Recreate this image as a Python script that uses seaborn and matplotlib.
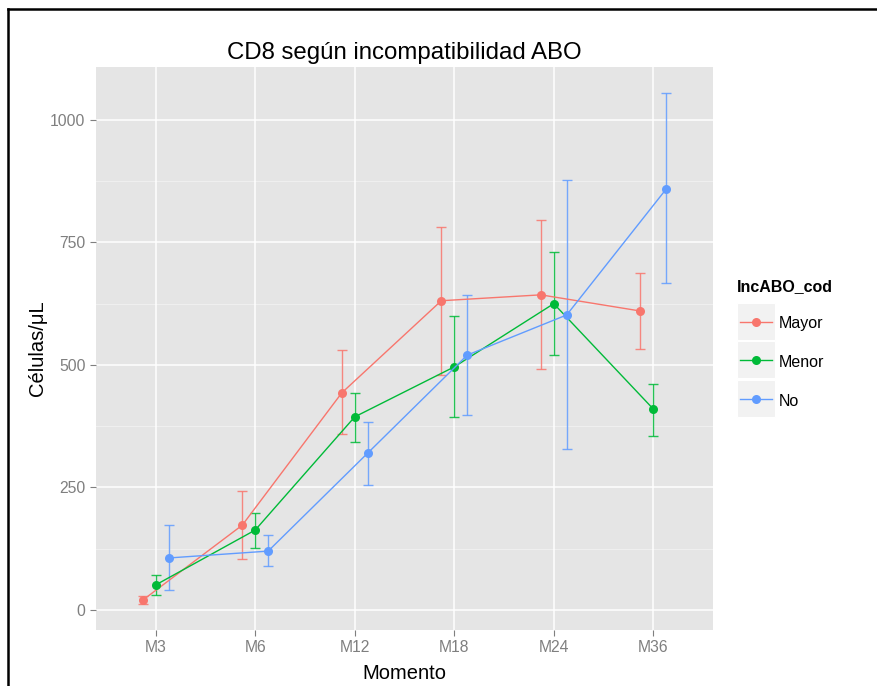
import numpy as np
import pandas as pd
import matplotlib
matplotlib.use("Agg")
import matplotlib.pyplot as plt
from matplotlib.lines import Line2D
from matplotlib.patches import Rectangle
import seaborn as sns

# ---- data ----
momentos = ["M3", "M6", "M12", "M18", "M24", "M36"]
grupos = ["Mayor", "Menor", "No"]

mayor_mean = [20, 173, 443, 631, 643, 610]
mayor_low = [12, 104, 359, 480, 492, 533]
mayor_high = [28, 243, 531, 782, 796, 688]

menor_mean = [51, 163, 394, 496, 625, 410]
menor_low = [31, 127, 343, 394, 520, 355]
menor_high = [71, 198, 443, 600, 731, 461]

no_mean = [106, 120, 320, 520, 602, 859]
no_low = [41, 90, 255, 398, 329, 667]
no_high = [173, 153, 384, 643, 878, 1055]

y_ticks = [0, 250, 500, 750, 1000]

colors = {"Mayor": "#F8766D", "Menor": "#00BA38", "No": "#619CFF"}

rows = []
for g, m, lo, hi in [("Mayor", mayor_mean, mayor_low, mayor_high),
                     ("Menor", menor_mean, menor_low, menor_high),
                     ("No", no_mean, no_low, no_high)]:
    for i, mom in enumerate(momentos):
        rows.append(dict(IncABO_cod=g, Momento=mom, idx=i, mean=m[i], low=lo[i], high=hi[i]))
df = pd.DataFrame(rows)
dodge = {"Mayor": -0.13, "Menor": 0.0, "No": 0.13}
df["xpos"] = df["idx"] + df["IncABO_cod"].map(dodge)

# ---- figure ----
W, H = 877, 686
fig = plt.figure(figsize=(W / 100, H / 100), dpi=100)
fig.patch.set_facecolor("white")
plt.rcParams["font.family"] = ["Liberation Sans", "DejaVu Sans"]

L, R, T, B = 96, 713, 67, 630
ax = fig.add_axes([L / W, 1 - B / H, (R - L) / W, (B - T) / H])
ax.set_facecolor("#E5E5E5")

# grid
for v in [125, 375, 625, 875]:
    ax.axhline(v, color="#F2F2F2", lw=0.6, zorder=0.5)
for v in y_ticks:
    ax.axhline(v, color="white", lw=1.1, zorder=0.6)
for i in range(len(momentos)):
    ax.axvline(i, color="white", lw=1.1, zorder=0.6)

# error bars
for g in grupos:
    d = df[df["IncABO_cod"] == g]
    ax.errorbar(d["xpos"], d["mean"],
                yerr=[d["mean"] - d["low"], d["high"] - d["mean"]],
                fmt="none", ecolor=colors[g], elinewidth=1.0, capsize=3.3,
                capthick=1.0, alpha=0.85, zorder=2)

sns.lineplot(data=df, x="xpos", y="mean", hue="IncABO_cod", palette=colors,
             hue_order=grupos, marker="o", markersize=6.5, markeredgewidth=0,
             linewidth=1.0, sort=False, legend=False, ax=ax, zorder=3)

ax.set_xlim(-0.6, 5.6)
ax.set_ylim(-41, 1108)
ax.set_xticks(range(len(momentos)))
ax.set_xticklabels(momentos)
ax.set_yticks(y_ticks)
ax.set_yticklabels([str(v) for v in y_ticks])
for s in ax.spines.values():
    s.set_visible(False)
ax.tick_params(axis="both", colors="#7F7F7F", labelcolor="#7F7F7F",
               labelsize=11.3, length=4.5, width=0.8, pad=3)
ax.set_xlabel("Momento", fontsize=14.5, color="black", labelpad=6)
ax.set_ylabel("Células/μL", fontsize=14.5, color="black", labelpad=2)
ax.set_title("CD8 según incompatibilidad ABO", fontsize=17.3, color="black", pad=6)

# ---- legend (ggplot style) ----
def fx(x):
    return x / W

def fy(y):
    return 1 - y / H

fig.text(fx(737), fy(287), "IncABO_cod", fontsize=11.5, fontweight="bold",
         ha="left", va="center")
key_tops = [303, 341, 380]
for g, top in zip(grupos, key_tops):
    fig.add_artist(Rectangle((fx(737), fy(top + 37)), 38 / W, 37 / H,
                             transform=fig.transFigure, facecolor="#F2F2F2",
                             edgecolor="white", lw=0.8))
    yc = top + 19
    fig.add_artist(Line2D([fx(740), fx(772)], [fy(yc), fy(yc)],
                          transform=fig.transFigure, color=colors[g], lw=1.0))
    fig.add_artist(Line2D([fx(756)], [fy(yc)], transform=fig.transFigure,
                          color=colors[g], marker="o", markersize=6.5,
                          markeredgewidth=0))
    fig.text(fx(779), fy(yc + 2), g, fontsize=11.5, ha="left", va="center")

# outer border (left & top)
fig.add_artist(Line2D([fx(8), fx(877)], [fy(9), fy(9)], transform=fig.transFigure,
                      color="black", lw=1.8))
fig.add_artist(Line2D([fx(8), fx(8)], [fy(9), fy(686)], transform=fig.transFigure,
                      color="black", lw=1.8))

fig.savefig("out.png", dpi=100)
